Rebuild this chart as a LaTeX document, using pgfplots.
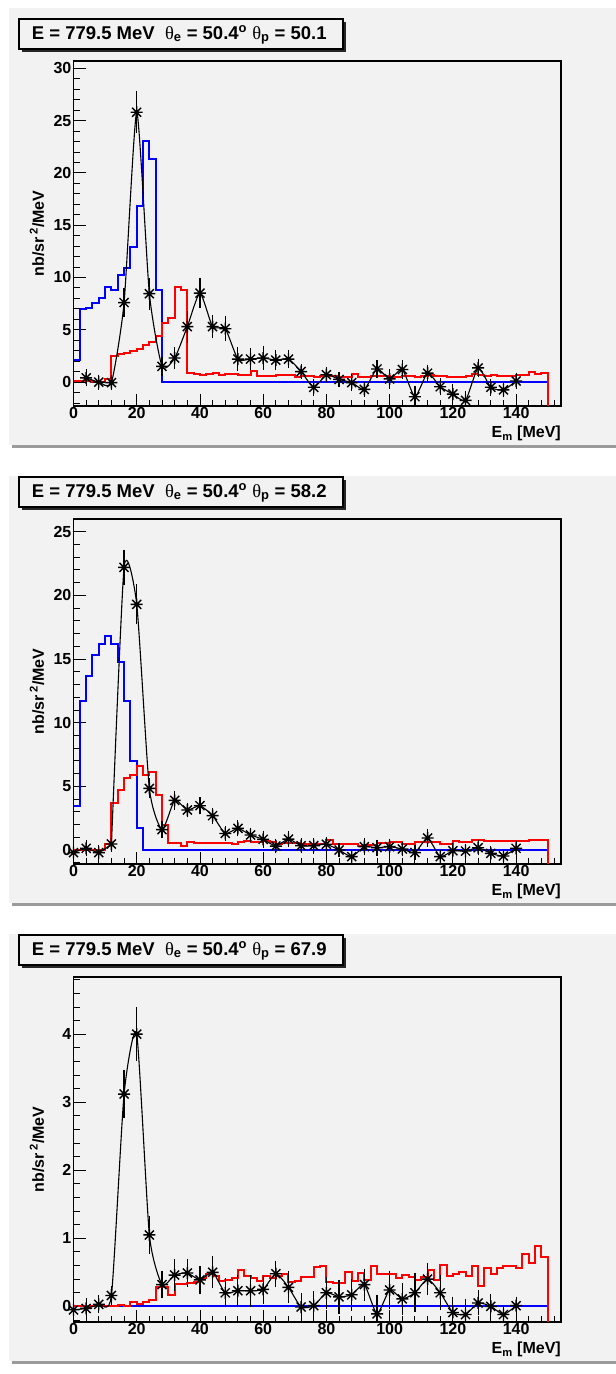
\documentclass[border=0pt]{standalone}
\usepackage{fontspec}
\setmainfont{Liberation Sans}
\newfontfamily\greekfont{Liberation Serif}
\usepackage{pgfplots}
\usepackage{pgfplotstable}
\pgfplotsset{compat=1.18}

\definecolor{padgray}{RGB}{242,242,242}
\definecolor{shadowgray}{RGB}{155,155,155}
\definecolor{hblue}{RGB}{0,0,255}
\definecolor{hred}{RGB}{255,0,0}

\pgfdeclareplotmark{rootstar}{%
 \pgfpathmoveto{\pgfqpoint{-\pgfplotmarksize}{0pt}}%
 \pgfpathlineto{\pgfqpoint{\pgfplotmarksize}{0pt}}%
 \pgfpathmoveto{\pgfqpoint{0pt}{-\pgfplotmarksize}}%
 \pgfpathlineto{\pgfqpoint{0pt}{\pgfplotmarksize}}%
 \pgfpathmoveto{\pgfqpoint{-0.75\pgfplotmarksize}{-0.75\pgfplotmarksize}}%
 \pgfpathlineto{\pgfqpoint{0.75\pgfplotmarksize}{0.75\pgfplotmarksize}}%
 \pgfpathmoveto{\pgfqpoint{-0.75\pgfplotmarksize}{0.75\pgfplotmarksize}}%
 \pgfpathlineto{\pgfqpoint{0.75\pgfplotmarksize}{-0.75\pgfplotmarksize}}%
 \pgfusepathqstroke}

% ---------------- data panel 1 ----------------
\pgfplotstableread{
x y e
4 0.4 0.6
8 0.0 0.5
12 -0.05 0.5
16 7.6 1.2
20 25.8 1.8
24 8.45 1.3
28 1.5 0.7
32 2.3 0.8
36 5.3 1.3
40 8.5 1.2
44 5.3 0.9
48 5.1 1.0
52 2.2 0.9
56 2.2 0.8
60 2.3 0.9
64 2.1 0.7
68 2.2 0.6
72 1.0 0.5
76 -0.5 0.6
80 0.7 0.5
84 0.25 0.5
88 -0.05 0.6
92 -0.7 0.5
96 1.25 0.6
100 0.3 0.7
104 1.2 0.7
108 -1.4 0.8
112 0.85 0.6
116 -0.45 0.6
120 -1.15 0.7
124 -1.75 0.7
128 1.35 0.65
132 -0.5 0.6
136 -0.75 0.5
140 0.1 0.5
}\dataA
\pgfplotstableread{
x y
0 2.1
2 6.95
4 7.05
6 7.6
8 8.0
10 9.05
12 8.85
14 10.2
16 10.95
18 12.9
20 16.8
22 23.05
24 21.3
26 8.8
28 0
150 0
150 -2.29
}\blueA
\pgfplotstableread{
x y
0 0.1
2 0.1
4 0.08
6 0.05
8 0.0
10 0.3
12 2.45
14 2.7
16 2.8
18 3.0
20 3.2
22 3.55
24 3.8
26 4.4
28 5.6
30 6.15
32 9.1
34 8.8
36 0.9
38 0.8
40 0.72
42 0.8
44 0.83
46 0.72
48 0.75
50 0.75
52 0.72
54 0.68
56 1.05
58 0.57
60 0.6
62 0.6
64 0.72
66 0.7
68 0.68
70 0.52
72 0.62
74 0.62
76 0.52
78 0.55
80 0.58
82 0.55
84 0.52
86 0.5
88 0.8
90 0.5
92 0.48
94 0.55
96 0.62
98 0.6
100 0.5
102 0.48
104 0.62
106 0.55
108 0.52
110 0.62
112 0.68
114 0.62
116 0.55
118 0.52
120 0.5
122 0.5
124 0.55
126 0.78
128 0.72
130 0.62
132 0.65
134 0.58
136 0.62
138 0.58
140 0.68
142 0.72
144 0.92
146 0.8
148 0.88
150 0.88
150 -2.29
}\redA

% ---------------- data panel 2 ----------------
\pgfplotstableread{
x y e
0 -0.2 0.4
4 0.13 0.45
8 -0.2 0.4
12 0.47 0.45
16 22.2 1.2
20 19.3 1.4
24 4.84 0.6
28 1.6 0.5
32 3.9 0.55
36 3.14 0.4
40 3.48 0.5
44 2.7 0.45
48 1.3 0.4
52 1.7 0.45
56 1.18 0.4
60 0.84 0.5
64 0.31 0.4
68 0.86 0.45
72 0.34 0.4
76 0.34 0.45
80 0.45 0.4
84 0.0 0.35
88 -0.52 0.35
92 0.26 0.5
96 0.18 0.45
100 0.26 0.45
104 0.08 0.4
108 -0.2 0.4
112 0.94 0.5
116 -0.52 0.35
120 -0.05 0.45
124 -0.08 0.4
128 0.18 0.4
132 -0.26 0.4
136 -0.47 0.3
140 0.13 0.4
}\dataB
\pgfplotstableread{
x y
0 3.45
2 11.74
4 13.67
6 15.3
8 16.2
10 16.8
12 16.15
14 14.77
16 11.7
18 6.98
20 1.7
22 0
150 0
150 -1.1
}\blueB
\pgfplotstableread{
x y
0 0.02
2 0.02
4 0.02
6 0.02
8 0.02
10 0.47
12 3.7
14 4.7
16 5.67
18 5.93
20 6.6
22 5.86
24 6.1
26 4.3
28 1.93
30 0.52
32 0.52
34 0.31
36 0.6
38 0.55
40 0.55
42 0.55
44 0.55
46 0.55
48 0.52
50 0.47
52 0.6
54 0.7
56 0.6
58 0.6
60 0.68
62 0.6
64 0.45
66 0.52
68 0.55
70 0.55
72 0.5
74 0.5
76 0.5
78 0.5
80 0.8
82 0.45
84 0.45
86 0.45
88 0.45
90 0.34
92 0.42
94 0.42
96 0.55
98 0.55
100 0.6
102 0.6
104 0.48
106 0.48
108 0.6
110 0.6
112 0.62
114 0.62
116 0.5
118 0.5
120 0.72
122 0.62
124 0.62
126 0.75
128 0.75
130 0.68
132 0.68
134 0.68
136 0.68
138 0.68
140 0.68
142 0.68
144 0.82
146 0.82
148 0.75
150 0.75
150 -1.1
}\redB

% ---------------- data panel 3 ----------------
\pgfplotstableread{
x y e
0 -0.05 0.1
4 -0.03 0.12
8 0.03 0.1
12 0.16 0.1
16 3.12 0.32
20 4.0 0.36
24 1.05 0.24
28 0.32 0.17
32 0.46 0.2
36 0.49 0.17
40 0.39 0.17
44 0.5 0.2
48 0.2 0.18
52 0.23 0.2
56 0.23 0.2
60 0.25 0.18
64 0.48 0.16
68 0.28 0.2
72 -0.01 0.17
76 0.01 0.18
80 0.2 0.2
84 0.14 0.22
88 0.17 0.2
92 0.32 0.2
96 -0.11 0.25
100 0.24 0.25
104 0.11 0.2
108 0.2 0.25
112 0.4 0.2
116 0.2 0.22
120 -0.09 0.2
124 -0.12 0.2
128 0.05 0.15
132 0.0 0.15
136 -0.12 0.1
140 0.01 0.1
}\dataC
\pgfplotstableread{
x y
0 0
150 0
150 -0.23
}\blueC
\pgfplotstableread{
x y
0 0
2 0
4 0
6 0
8 0
10 0
12 0.01
14 0.025
16 0.0
18 0.06
20 0.035
22 0.07
24 0.1
26 0.29
28 0.29
30 0.16
32 0.33
34 0.33
36 0.35
38 0.36
40 0.42
42 0.48
44 0.45
46 0.38
48 0.39
50 0.42
52 0.54
54 0.44
56 0.42
58 0.38
60 0.44
62 0.41
64 0.45
66 0.47
68 0.36
70 0.38
72 0.43
74 0.43
76 0.58
78 0.60
80 0.36
82 0.34
84 0.34
86 0.50
88 0.38
90 0.49
92 0.39
94 0.59
96 0.47
98 0.47
100 0.48
102 0.42
104 0.46
106 0.43
108 0.39
110 0.43
112 0.54
114 0.39
116 0.61
118 0.44
120 0.48
122 0.50
124 0.44
126 0.60
128 0.30
130 0.56
132 0.48
134 0.57
136 0.60
138 0.59
140 0.57
142 0.77
144 0.63
146 0.88
148 0.72
150 0.72
150 -0.23
}\redC

\newcommand{\labfont}{\fontsize{16}{19}\selectfont\bfseries}

\pgfplotsset{
 rootax/.style={
  scale only axis, width=487.5pt, height=345pt,
  xmin=0, xmax=154.2,
  axis line style={line width=1.6pt},
  tick pos=left, tick align=inside,
  xtick={0,20,...,140}, minor xtick={0,4,...,152},
  major tick length=12pt, minor tick length=6pt,
  every tick/.style={black, line width=0.9pt},
  tick label style={font=\fontsize{16}{19}\selectfont\bfseries},
  /pgf/number format/assume math mode=true,
  xticklabel style={inner sep=1.5pt},
  yticklabel style={inner sep=2pt},
  xlabel={\labfont E\textsubscript{m} [MeV]},
  ylabel={\labfont nb/sr\,\textsuperscript{2}/MeV},
  every axis x label/.style={at={(axis description cs:1,0)}, anchor=base east, yshift=-31.7pt, inner sep=0pt, font=\labfont},
  every axis y label/.style={at={(axis description cs:-0.075,0.5)}, anchor=center, rotate=90, inner sep=0pt, font=\labfont},
  axis background/.style={fill=padgray},
 },
 hbl/.style={const plot mark left, color=hblue, line width=2pt, line join=miter, mark=none},
 hrd/.style={const plot mark left, color=hred, line width=2pt, line join=miter, mark=none},
 hcurve/.style={black, line width=1.1pt, smooth, tension=0.35, mark=none},
 hpts/.style={black, only marks, mark=rootstar, mark size=6pt,
   mark options={line width=1.4pt, solid},
   error bars/.cd, y dir=both, y explicit, error mark=-,
   error bar style={line width=1.2pt},
   error mark options={line width=1.2pt, mark size=2.3pt}},
}

\newcommand{\titletext}[1]{\fontsize{18.5}{22}\selectfont\bfseries E = 779.5 MeV\ \ {\greekfont\mdseries θ}\textsubscript{e} = 50.4\textsuperscript{o} {\greekfont\mdseries θ}\textsubscript{p} = #1}

\newcommand{\pad}[3]{% #1 offset, #2 top, #3 title value
  \fill[padgray] (9pt,{-(#2)*1pt}) rectangle (616pt,{-(#1+445)*1pt});
  \fill[shadowgray] (12pt,{-(#1+445)*1pt}) rectangle (616pt,{-(#1+448)*1pt});
  \fill[black!85] (22pt,{-(#1+22)*1pt}) rectangle (346pt,{-(#1+52)*1pt});
  \draw[fill=padgray, line width=1.3pt] (19pt,{-(#1+19)*1pt}) rectangle (343pt,{-(#1+49)*1pt});
  \node[anchor=base west, inner sep=0pt] at (31.7pt,{-(#1+39)*1pt}) {\titletext{#3}};
}

\begin{document}
\begin{tikzpicture}
\fill[white] (0pt,0pt) rectangle (616pt,-1374pt);
\pad{0}{8}{50.1}
\pad{458}{476}{58.2}
\pad{916}{934}{67.9}

% panel 1
\begin{axis}[rootax, at={(73.5pt,-406pt)}, anchor=south west,
  ymin=-2.29, ymax=30.7, ytick={0,5,...,30}, minor ytick={-2,-1,...,30}]
\addplot[hbl] table[x=x,y=y] {\blueA};
\addplot[hrd] table[x=x,y=y] {\redA};
\addplot[hcurve] table[x=x,y=y] {\dataA};
\addplot[hpts] table[x=x,y=y,y error=e] {\dataA};
\end{axis}

% panel 2
\begin{axis}[rootax, at={(73.5pt,-864pt)}, anchor=south west,
  ymin=-1.1, ymax=26.0, ytick={0,5,...,25}, minor ytick={-1,0,...,26}]
\addplot[hbl] table[x=x,y=y] {\blueB};
\addplot[hrd] table[x=x,y=y] {\redB};
\addplot[hcurve, restrict x to domain=0:12] table[x=x,y=y] {\dataB};
\addplot[hcurve, restrict x to domain=12:150] table[x=x,y=y] {\dataB};
\addplot[hpts] table[x=x,y=y,y error=e] {\dataB};
\end{axis}

% panel 3
\begin{axis}[rootax, at={(73.5pt,-1322pt)}, anchor=south west,
  ymin=-0.23, ymax=4.84, ytick={0,1,...,4}, minor ytick={-0.2,0,...,4.8}]
\addplot[hbl] table[x=x,y=y] {\blueC};
\addplot[hrd] table[x=x,y=y] {\redC};
\addplot[hcurve] table[x=x,y=y] {\dataC};
\addplot[hpts] table[x=x,y=y,y error=e] {\dataC};
\end{axis}
\end{tikzpicture}
\end{document}
